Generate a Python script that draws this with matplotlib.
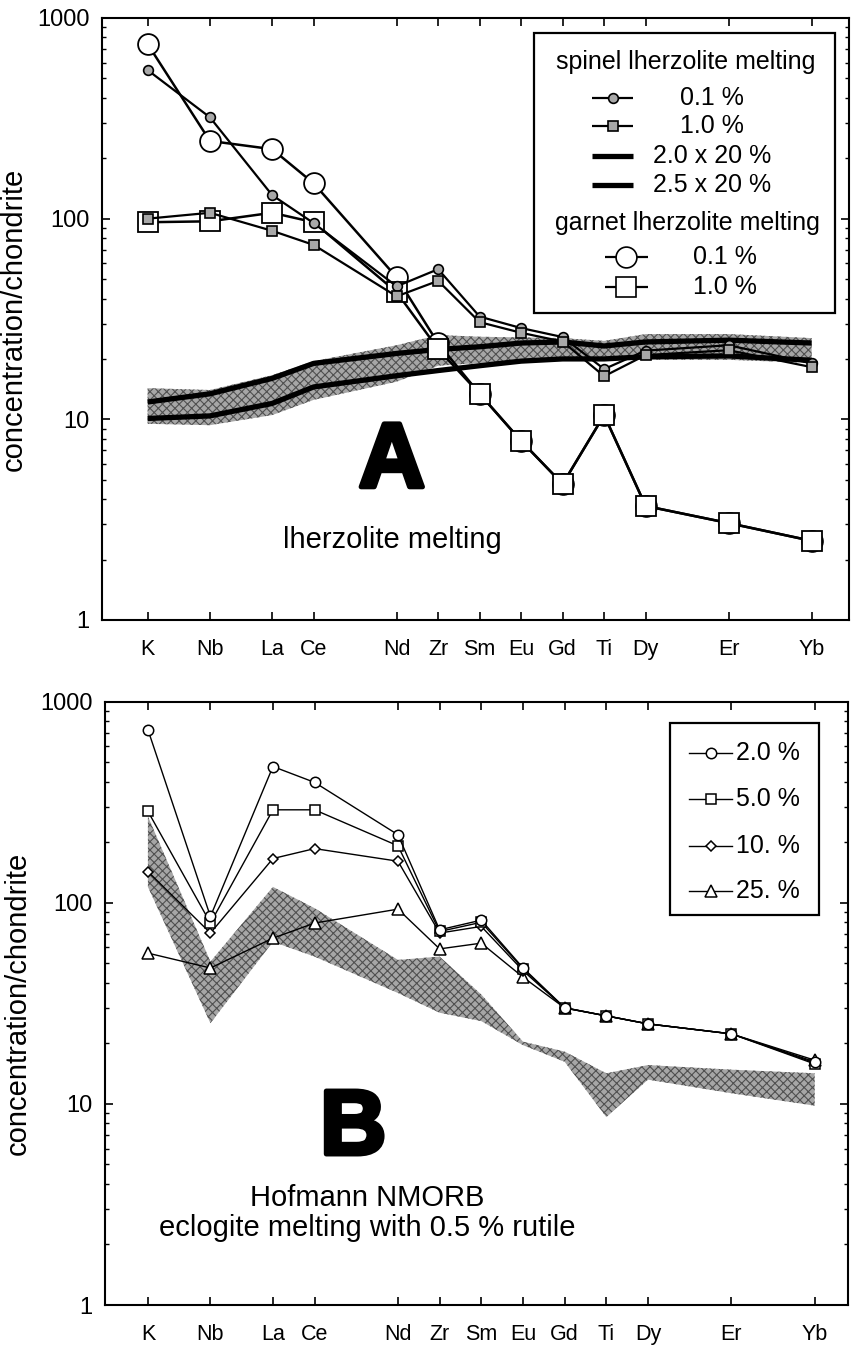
import numpy as np
import matplotlib
matplotlib.use('Agg')
import matplotlib.pyplot as plt
import matplotlib.patheffects as pe
from matplotlib.ticker import FixedLocator, LogLocator, NullFormatter, FixedFormatter

plt.rcParams['font.family'] = ['Liberation Sans', 'DejaVu Sans']
plt.rcParams['hatch.linewidth'] = 0.8

# ---------------- data ----------------
elements = ['K', 'Nb', 'La', 'Ce', 'Nd', 'Zr', 'Sm', 'Eu', 'Gd', 'Ti', 'Dy', 'Er', 'Yb']
xpos = [0, 1.5, 3, 4, 6, 7, 8, 9, 10, 11, 12, 14, 16]

# Panel A - lherzolite melting
sp01 = [550, 320, 131, 95, 46, 56, 32.5, 28.5, 25.7, 17.8, 22, 23.4, 19]
sp10 = [100, 107, 87, 74, 41, 49, 30.5, 27, 24.4, 16.4, 20.9, 22.1, 18.2]
sp20x20 = [12.2, 13.4, 16, 19, 21.3, 22.3, 23, 24, 24.3, 23.2, 24.3, 24.8, 24]
sp25x20 = [10.1, 10.4, 12, 14.5, 16.5, 17.5, 18.5, 19.5, 20, 20, 20.5, 20.7, 19.7]
bandA_hi = [14.3, 14.0, 16.6, 19.5, 23.4, 26.3, 25.8, 25.6, 25.4, 24.6, 26.6, 26.6, 25.4]
bandA_lo = [9.5, 9.35, 10.5, 12.5, 15.4, 18.5, 19.1, 19.5, 20.2, 20.0, 19.8, 19.8, 19.1]
gt01 = [741, 244, 222, 150, 51, 23.9, 13.4, 7.8, 4.76, 10.5, 3.7, 3.04, 2.48]
gt10 = [96, 97, 107, 96, 43, 22.4, 13.4, 7.8, 4.76, 10.5, 3.7, 3.04, 2.48]

# Panel B - eclogite melting
b20 = [726, 85.5, 476, 397, 218, 73.4, 82, 47.5, 30.1, 27.4, 25, 22.3, 16.2]
b50 = [285, 79.3, 290, 290, 192, 72, 80, 47, 30, 27.4, 25, 22.3, 15.8]
b100 = [143, 70.7, 166, 186, 161, 70.7, 76.3, 46, 30, 27.4, 25, 22.3, 16]
b250 = [56.2, 47.4, 66.7, 79.3, 93, 59, 63, 42.7, 30, 27.4, 25, 22.3, 16.5]
bandB_hi = [269, 51, 120, 94, 52, 54, 35, 20.4, 18.2, 14.2, 15.6, 14.8, 14.2]
bandB_lo = [120, 25.2, 64, 54, 35.6, 28.4, 25.8, 19.6, 16.2, 8.6, 13.2, 11.3, 9.8]

ytick_vals = [1, 10, 100, 1000]
ytick_labels = ['1', '10', '100', '1000']

# ---------------- figure ----------------
fig = plt.figure(figsize=(8.53, 13.46), dpi=100)
axA = fig.add_axes([102/853, 1-620/1346, 747/853, 602/1346])
axB = fig.add_axes([105/853, 1-1305/1346, 743/853, 603.3/1346])

def style_axis(ax, xlim):
    ax.set_yscale('log')
    ax.set_ylim(1, 1000)
    ax.set_xlim(*xlim)
    ax.xaxis.set_major_locator(FixedLocator(xpos))
    ax.xaxis.set_major_formatter(FixedFormatter(elements))
    ax.yaxis.set_major_locator(FixedLocator(ytick_vals))
    ax.yaxis.set_major_formatter(FixedFormatter(ytick_labels))
    ax.yaxis.set_minor_locator(LogLocator(base=10, subs=np.arange(2, 10)))
    ax.yaxis.set_minor_formatter(NullFormatter())
    ax.tick_params(axis='x', which='major', direction='in', top=True, bottom=True,
                   length=6, width=1.2, labelsize=15.5, pad=14)
    ax.tick_params(axis='y', which='major', direction='in', left=True, right=True,
                   length=6, width=1.2, labelsize=17, pad=9)
    ax.tick_params(axis='y', which='minor', direction='in', left=True, right=True,
                   length=3, width=1.0)
    for s in ax.spines.values():
        s.set_linewidth(1.5)
    ax.set_ylabel('concentration/chondrite', fontsize=21)
    ax.yaxis.set_label_coords(-0.099, 0.5)

style_axis(axA, (-1.1, 16.9))
style_axis(axB, (-1.03, 16.8))

band_face = '#a6a6a6'
band_hatch_col = '#505050'

# ---------------- panel A ----------------
axA.fill_between(xpos, bandA_lo, bandA_hi, facecolor=band_face, edgecolor=band_hatch_col,
                 hatch='xxxx', lw=0, zorder=1)
axA.plot(xpos, sp20x20, color='black', lw=3.8, zorder=2, solid_capstyle='butt')
axA.plot(xpos, sp25x20, color='black', lw=3.8, zorder=2, solid_capstyle='butt')

axA.plot(xpos, gt01, color='black', lw=1.8, marker='o', ms=15, mfc='white',
         mec='black', mew=1.3, zorder=3)
axA.plot(xpos, gt10, color='black', lw=1.8, marker='s', ms=15, mfc='white',
         mec='black', mew=1.3, zorder=4)
axA.plot(xpos, sp01, color='black', lw=1.6, marker='o', ms=7, mfc='#a8a8a8',
         mec='black', mew=1.2, zorder=5)
axA.plot(xpos, sp10, color='black', lw=1.6, marker='s', ms=7, mfc='#a8a8a8',
         mec='black', mew=1.2, zorder=5)

tA = axA.transAxes
axA.add_patch(plt.Rectangle((0.578, 0.510), 0.403, 0.465, transform=tA,
                            fill=True, facecolor='white', edgecolor='black',
                            lw=1.6, zorder=6))
axA.text(0.781, 0.927, 'spinel lherzolite melting', transform=tA, fontsize=18,
         ha='center', va='center', zorder=7)
axA.text(0.784, 0.659, 'garnet lherzolite melting', transform=tA, fontsize=18,
         ha='center', va='center', zorder=7)
legA = [
    (0.867, '0.1 %', dict(marker='o', ms=7, mfc='#a8a8a8', lw=1.6), 0.656, 0.711, 0.817),
    (0.821, '1.0 %', dict(marker='s', ms=7, mfc='#a8a8a8', lw=1.6), 0.656, 0.711, 0.817),
    (0.771, '2.0 x 20 %', dict(lw=3.8), 0.656, 0.711, 0.817),
    (0.723, '2.5 x 20 %', dict(lw=3.8), 0.656, 0.711, 0.817),
    (0.603, '0.1 %', dict(marker='o', ms=15, mfc='white', lw=1.6), 0.673, 0.731, 0.834),
    (0.553, '1.0 %', dict(marker='s', ms=15, mfc='white', lw=1.6), 0.673, 0.731, 0.834),
]
for y, lab, kw, x0, x1, xt in legA:
    axA.plot([x0, x1], [y, y], color='black', transform=tA, zorder=7,
             solid_capstyle='butt', lw=kw.get('lw', 1.6))
    if 'marker' in kw:
        axA.plot([(x0 + x1) / 2], [y], transform=tA, zorder=8, ls='none',
                 marker=kw['marker'], ms=kw['ms'], mfc=kw['mfc'], mec='black', mew=1.2)
    axA.text(xt, y, lab, transform=tA, fontsize=18, ha='center', va='center', zorder=8)

axA.text(0.388, 0.261, 'A', transform=tA, fontsize=66, fontweight='bold',
         ha='center', va='center',
         path_effects=[pe.withStroke(linewidth=3.5, foreground='black')])
axA.text(0.389, 0.133, 'lherzolite melting', transform=tA, fontsize=21,
         ha='center', va='center')

# ---------------- panel B ----------------
axB.fill_between(xpos, bandB_lo, bandB_hi, facecolor=band_face, edgecolor=band_hatch_col,
                 hatch='xxxx', lw=0, zorder=1)
mk = dict(color='black', lw=1.0, mfc='white', mec='black', mew=1.1)
axB.plot(xpos, b250, marker='^', ms=8, zorder=3, **mk)
axB.plot(xpos, b100, marker='D', ms=5.5, zorder=4, **mk)
axB.plot(xpos, b50, marker='s', ms=7, zorder=5, **mk)
axB.plot(xpos, b20, marker='o', ms=7.5, zorder=6, **mk)

tB = axB.transAxes
axB.add_patch(plt.Rectangle((0.760, 0.646), 0.201, 0.319, transform=tB,
                            facecolor='white', edgecolor='black', lw=1.6, zorder=7))
legB = [
    (0.915, '2.0 %', dict(marker='o', ms=7.5)),
    (0.839, '5.0 %', dict(marker='s', ms=7)),
    (0.761, '10. %', dict(marker='D', ms=5.5)),
    (0.686, '25. %', dict(marker='^', ms=8)),
]
for y, lab, kw in legB:
    axB.plot([0.786, 0.844], [y, y], color='black', lw=1.0, transform=tB, zorder=8)
    axB.plot([0.815], [y], transform=tB, ls='none', marker=kw['marker'], ms=kw['ms'],
             mfc='white', mec='black', mew=1.1, zorder=9)
    axB.text(0.849, y, lab, transform=tB, fontsize=18, ha='left', va='center', zorder=9)

axB.text(0.334, 0.290, 'B', transform=tB, fontsize=66, fontweight='bold',
         ha='center', va='center',
         path_effects=[pe.withStroke(linewidth=3.5, foreground='black')])
axB.text(0.353, 0.177, 'Hofmann NMORB', transform=tB, fontsize=21,
         ha='center', va='center')
axB.text(0.353, 0.128, 'eclogite melting with 0.5 % rutile', transform=tB, fontsize=21,
         ha='center', va='center')

fig.savefig('out.png', dpi=100)
